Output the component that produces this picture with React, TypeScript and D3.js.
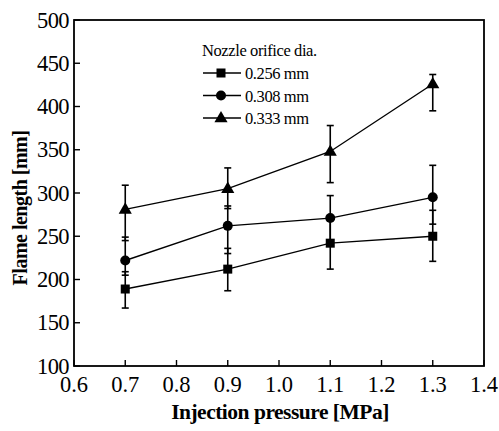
import React from "react";
import * as d3 from "d3";

const pressures = [0.7, 0.9, 1.1, 1.3];
const seriesNames = ["0.256 mm", "0.308 mm", "0.333 mm"];
const markerShapes = ["square", "circle", "triangle"];
const flame256 = [189, 212, 242, 250];
const flame308 = [222, 262, 271, 295];
const flame333 = [281, 305, 348, 426];
const lower256 = [167, 187, 212, 221];
const upper256 = [209, 236, 270, 280];
const lower308 = [205, 230, 245, 264];
const upper308 = [249, 285, 297, 332];
const lower333 = [245, 282, 312, 395];
const upper333 = [309, 329, 378, 437];
const xTicks = [0.6, 0.7, 0.8, 0.9, 1.0, 1.1, 1.2, 1.3, 1.4];
const yTicks = [100, 150, 200, 250, 300, 350, 400, 450, 500];
const legendTitle = "Nozzle orifice dia.";
const xTitle = "Injection pressure [MPa]";
const yTitle = "Flame length [mm]";

const values = [flame256, flame308, flame333];
const lowers = [lower256, lower308, lower333];
const uppers = [upper256, upper308, upper333];

const W = 499, H = 431;
const L = 74, R = 484, T = 20, B = 366;
const FONT = "'Liberation Serif', 'Times New Roman', serif";

function Marker({ shape, x, y }: { shape: string; x: number; y: number }) {
  if (shape === "square") return <rect x={x - 4.5} y={y - 4.5} width={9} height={9} fill="#000" />;
  if (shape === "circle") return <circle cx={x} cy={y} r={5} fill="#000" />;
  const sym = d3.symbol(d3.symbolTriangle, 75)();
  return <path d={sym as string} transform={`translate(${x},${y + 0.5})`} fill="#000" />;
}

export default function App() {
  const x = d3.scaleLinear().domain([0.6, 1.4]).range([L, R]);
  const y = d3.scaleLinear().domain([100, 500]).range([B, T]);
  const line = d3.line<number>().x((_, i) => x(pressures[i])).y((v) => y(v));

  return (
    <svg width={W} height={H} style={{ position: "absolute", left: 0, top: 0, background: "#fff" }}>
      <rect x={L} y={T} width={R - L} height={B - T} fill="none" stroke="#000" strokeWidth={1.8} />
      {xTicks.map((t) => (
        <g key={"x" + t}>
          <line x1={x(t)} x2={x(t)} y1={B} y2={B - 6} stroke="#000" strokeWidth={1.4} />
          <text x={x(t)} y={392} textAnchor="middle" fontFamily={FONT} fontSize={22.5}>{t.toFixed(1)}</text>
        </g>
      ))}
      {yTicks.map((t) => (
        <g key={"y" + t}>
          <line x1={L} x2={L + 6} y1={y(t)} y2={y(t)} stroke="#000" strokeWidth={1.4} />
          <text x={69} y={y(t) + 7.5} textAnchor="end" fontFamily={FONT} fontSize={22.5} letterSpacing={-0.6}>{t}</text>
        </g>
      ))}
      {values.map((vals, s) => (
        <g key={"s" + s}>
          <path d={line(vals) as string} fill="none" stroke="#000" strokeWidth={1.4} />
          {vals.map((v, i) => {
            const cx = x(pressures[i]);
            return (
              <g key={i}>
                <line x1={cx} x2={cx} y1={y(lowers[s][i])} y2={y(uppers[s][i])} stroke="#000" strokeWidth={1.6} />
                <line x1={cx - 3.5} x2={cx + 3.5} y1={y(lowers[s][i])} y2={y(lowers[s][i])} stroke="#000" strokeWidth={1.6} />
                <line x1={cx - 3.5} x2={cx + 3.5} y1={y(uppers[s][i])} y2={y(uppers[s][i])} stroke="#000" strokeWidth={1.6} />
                <Marker shape={markerShapes[s]} x={cx} y={y(v)} />
              </g>
            );
          })}
        </g>
      ))}
      <text x={202} y={56} fontFamily={FONT} fontSize={16.5} letterSpacing={-0.4}>{legendTitle}</text>
      {seriesNames.map((n, i) => {
        const ly = 73 + i * 22.5;
        return (
          <g key={n}>
            <line x1={203} x2={241} y1={ly} y2={ly} stroke="#000" strokeWidth={1.3} />
            <Marker shape={markerShapes[i]} x={221} y={ly} />
            <text x={245} y={ly + 6} fontFamily={FONT} fontSize={16.5} letterSpacing={-0.4}>{n}</text>
          </g>
        );
      })}
      <text x={280} y={419} textAnchor="middle" fontFamily={FONT} fontSize={21.5} fontWeight="bold" letterSpacing={-0.5}>{xTitle}</text>
      <text transform={`translate(27,208) rotate(-90)`} textAnchor="middle" fontFamily={FONT} fontSize={20} fontWeight="bold" letterSpacing={-0.5}>{yTitle}</text>
    </svg>
  );
}
